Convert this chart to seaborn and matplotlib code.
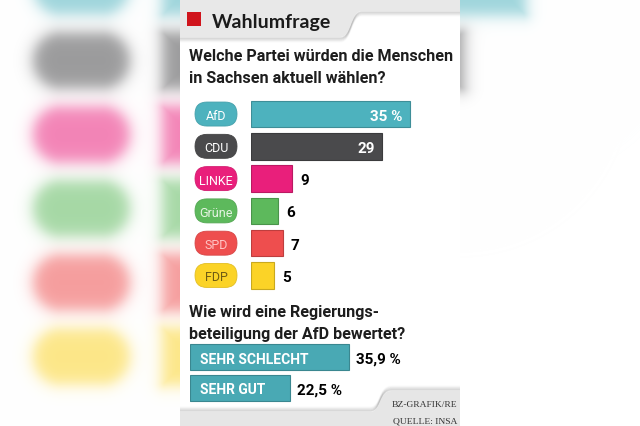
import numpy as np
import pandas as pd
import seaborn as sns
import matplotlib.pyplot as plt
import matplotlib.colors as mcolors
from matplotlib.patches import FancyBboxPatch, Rectangle, PathPatch
from matplotlib.path import Path

PARTIES = ["AfD", "CDU", "LINKE", "Grüne", "SPD", "FDP"]
SHARES = [35, 29, 9, 6, 7, 5]
SHARE_LABELS = ["35 %", "29", "9", "6", "7", "5"]
PARTY_COLORS = ["#4db2be", "#4a4a4c", "#e91f7b", "#5db95c", "#ee4e4e", "#fbd327"]
PILL_TEXT_COLORS = ["#ffffff", "#ffffff", "#ffffff", "#e6f4e3", "#ffc4c4", "#6e5b14"]

RATINGS = ["SEHR SCHLECHT", "SEHR GUT"]
RATING_VALUES = [35.9, 22.5]
RATING_LABELS = ["35,9 %", "22,5 %"]
RATING_COLOR = "#49a9b4"

TITLE = "Wahlumfrage"
QUESTION_1 = ["Welche Partei würden die Menschen", "in Sachsen aktuell wählen?"]
QUESTION_2 = ["Wie wird eine Regierungs-", "beteiligung der AfD bewertet?"]
CREDITS = ["BZ-GRAFIK/RE", "QUELLE: INSA"]

W, H = 640, 427
NARROW = ["Roboto", "DejaVu Sans"]

sns.set_style("white")
plt.rcParams["font.family"] = ["Roboto", "DejaVu Sans"]


def frame(x0, y0, x1, y1):
    # pixel box (top-left origin) -> figure fraction
    return [x0 / W, 1 - y1 / H, (x1 - x0) / W, (y1 - y0) / H]


def darker(c, f=0.8):
    return tuple(np.array(mcolors.to_rgb(c)) * f)


def blurred_background():
    # enlarged, out-of-focus copy of the party rows behind the card
    yy, xx = np.mgrid[0:H, 0:W] + 0.5
    img = np.ones((H, W, 3))

    def rounded(cx, cy, hw, hh, r):
        qx = np.abs(xx - cx) - (hw - r)
        qy = np.abs(yy - cy) - (hh - r)
        out = np.hypot(np.maximum(qx, 0), np.maximum(qy, 0))
        return out + np.minimum(np.maximum(qx, qy), 0) - r

    for i, (share, color) in enumerate(zip(SHARES, PARTY_COLORS)):
        rgb = np.array(mcolors.to_rgb(color)) * 0.55 + 0.45
        cy = -12.5 + 74 * i
        half = share * 10.4 / 2
        for d in (rounded(81.5, cy, 48, 28, 28), rounded(162 + half, cy, half, 29, 3)):
            a = (1 / (1 + np.exp(d / 4.5)))[..., None]
            img = img * (1 - a) + rgb * a
    return img


def shadow(ax, verts, codes, direction):
    for k in range(1, 7):
        v = [(x, y + direction * k * 0.8) for x, y in verts]
        ax.add_patch(PathPatch(Path(v, codes), fill=False, ec="black",
                               lw=1.2, alpha=0.10 * (1 - k / 7), zorder=2))


fig = plt.figure(figsize=(6.4, 4.27), dpi=100)
bg = fig.add_axes([0, 0, 1, 1])
bg.imshow(blurred_background(), extent=(0, W, H, 0), aspect="auto", zorder=0)
bg.set_xlim(0, W)
bg.set_ylim(H, 0)
bg.axis("off")
bg.add_patch(Rectangle((180, 0), 280, H, fc="white", ec="none", zorder=1))

# header tab
edge = [(460, 12), (362, 12), (350, 12), (352, 38), (340, 38), (180, 38)]
edge_codes = [Path.MOVETO, Path.LINETO, Path.CURVE4, Path.CURVE4, Path.CURVE4, Path.LINETO]
shadow(bg, edge, edge_codes, 1)
head = Path([(180, 0), (460, 0)] + edge + [(180, 0)],
            [Path.MOVETO, Path.LINETO, Path.LINETO] + edge_codes[1:] + [Path.CLOSEPOLY])
bg.add_patch(PathPatch(head, fc="#e8e8e8", ec="none", zorder=2))
bg.add_patch(Rectangle((187, 13), 14, 14, fc="#d0141c", ec="none", zorder=3))
bg.text(212, 28, TITLE, fontsize=14, fontweight="bold", family=["Lato", "DejaVu Sans"],
        color="#1b1b1b", va="baseline", zorder=3)

# footer tab
foot_edge = [(180, 413), (370, 413), (382, 413), (378, 392), (392, 392), (460, 392)]
shadow(bg, foot_edge, edge_codes, -1)
foot = Path(foot_edge + [(460, 427), (180, 427), (180, 413)],
            edge_codes + [Path.LINETO, Path.LINETO, Path.CLOSEPOLY])
bg.add_patch(PathPatch(foot, fc="#e6e6e6", ec="none", zorder=2))
for y, line in zip([407, 424], CREDITS):
    bg.text(457, y, line, ha="right", va="baseline", fontsize=6.8,
            family=["Liberation Serif", "DejaVu Serif"], color="#333333", zorder=3)

# questions
for y0, lines in [(61, QUESTION_1), (317, QUESTION_2)]:
    for k, line in enumerate(lines):
        bg.text(189, y0 + 22 * k, line, fontsize=11.6, fontweight="bold",
                color="#1d1d1d", va="baseline", zorder=3)

# party bars
df = pd.DataFrame({"party": PARTIES, "share": SHARES})
ax = fig.add_axes(frame(251, 98.9, 455, 292.6))
sns.barplot(data=df, x="share", y="party", hue="party", palette=PARTY_COLORS,
            saturation=1, width=0.82, legend=False, ax=ax)
ax.set_xlim(0, 45)
ax.set_ylim(5.5, -0.5)
ax.axis("off")
for bar, c in zip(ax.patches, PARTY_COLORS):
    bar.set_edgecolor(darker(c))
    bar.set_linewidth(0.8)

for i, (v, lab) in enumerate(zip(SHARES, SHARE_LABELS)):
    if v >= 20:
        ax.text(v - 1.6, i, lab, ha="right", va="center_baseline", color="white",
                family=NARROW, fontweight="bold", fontsize=11)
    else:
        ax.text(v + 1.8, i, lab, ha="left", va="center_baseline", color="black",
                family=NARROW, fontweight="bold", fontsize=11)

# party name pills, placed on the bar rows
for i, (name, c, tc) in enumerate(zip(PARTIES, PARTY_COLORS, PILL_TEXT_COLORS)):
    cy = H - ax.transData.transform((0, i))[1]
    bg.add_patch(FancyBboxPatch((195, cy - 12), 42, 24, boxstyle="round,pad=0,rounding_size=12",
                                fc=c, ec=darker(c, 0.9), lw=0.6, zorder=3))
    bg.text(216, cy, name, ha="center", va="center_baseline", color=tc, fontsize=9, zorder=4)

# rating bars
ax2 = fig.add_axes(frame(190, 342.5, 456, 404.5))
sns.barplot(x=RATING_VALUES, y=RATINGS, color=RATING_COLOR, saturation=1, width=0.84,
            edgecolor=darker(RATING_COLOR), linewidth=0.8, ax=ax2)
ax2.set_xlim(0, 60)
ax2.set_ylim(1.5, -0.5)
ax2.axis("off")
for i, (name, v, lab) in enumerate(zip(RATINGS, RATING_VALUES, RATING_LABELS)):
    ax2.text(2.3, i, name, ha="left", va="center_baseline", color="white",
             family=NARROW, fontweight="bold", fontsize=10)
    ax2.text(v + 1.6, i, lab, ha="left", va="center_baseline", color="black",
             family=NARROW, fontweight="bold", fontsize=11)

fig.savefig("out.png", dpi=100)
